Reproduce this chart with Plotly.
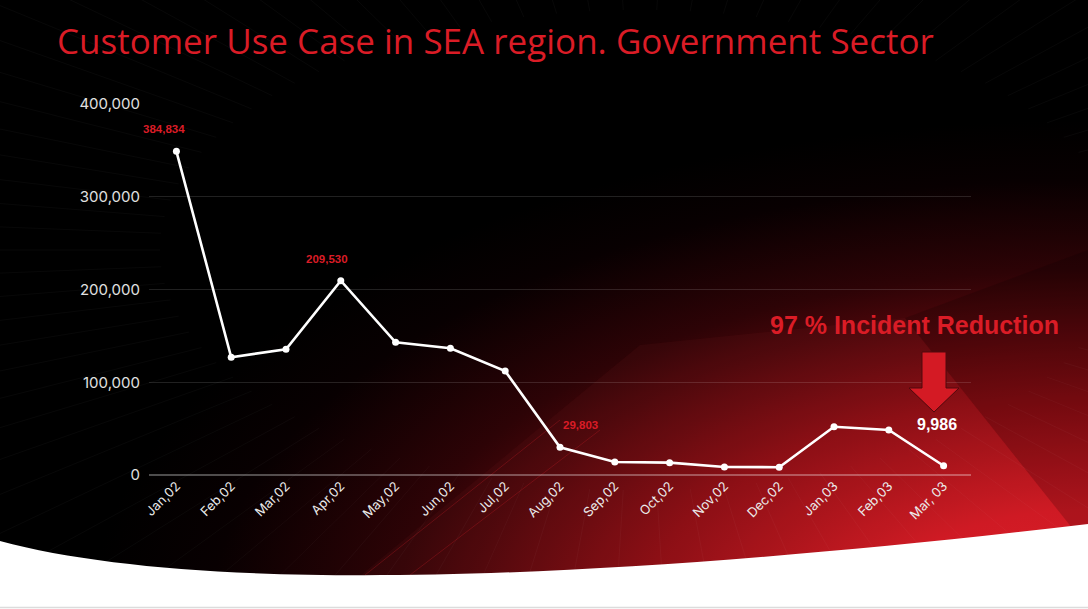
import numpy as np
import plotly.graph_objects as go

# data
months = ["Jan,02", "Feb,02", "Mar,02", "Apr,02", "May,02", "Jun,02", "Jul,02", "Aug,02",
          "Sep,02", "Oct,02", "Nov,02", "Dec,02", "Jan,03", "Feb,03", "Mar, 03"]
incidents = [349000, 127000, 135500, 209530, 143000, 136600, 112000, 29803,
             14000, 13300, 8700, 8400, 52000, 48500, 9986]

label_months = ["Jan,02", "Apr,02", "Aug,02"]
label_values = [384834, 209530, 29803]
label_shift = [-12, -14, 20]

last_value = 9986
yticks = [0, 100000, 200000, 300000, 400000]

W, H = 1088, 609
RED = "rgb(218,28,38)"

fig = go.Figure()

# background glow, drawn on a pixel axis that covers the whole page
t = np.linspace(0, 2 * np.pi, 121)
fig.add_trace(go.Scatter(
    x=1090 + 1000 * np.cos(t), y=620 + 500 * np.sin(t),
    mode="lines", line_width=0, fill="toself", hoverinfo="skip",
    fillgradient=dict(type="radial", colorscale=[
        [0, "rgb(225,30,40)"], [0.22, "rgb(205,24,34)"], [0.45, "rgb(135,12,18)"],
        [0.7, "rgb(45,3,6)"], [0.88, "rgb(8,0,1)"], [1, "rgb(0,0,0)"]]),
    xaxis="x", yaxis="y", showlegend=False))

# lighter beam and darker right wedge
fig.add_trace(go.Scatter(
    x=[361, 640, 905, 1088, 1088, 361], y=[575, 345, 318, 548, 580, 575],
    mode="lines", line_width=0, fill="toself", fillcolor="rgba(255,90,90,0.045)",
    hoverinfo="skip", xaxis="x", yaxis="y", showlegend=False))
fig.add_trace(go.Scatter(
    x=[905, 1088, 1088, 905], y=[318, 250, 548, 318],
    mode="lines", line_width=0, fill="toself", fillcolor="rgba(0,0,0,0.16)",
    hoverinfo="skip", xaxis="x", yaxis="y", showlegend=False))

# faint rays
cx, cy = 640, 250
ang = np.linspace(0, 2 * np.pi, 90, endpoint=False)
rx, ry = [], []
for a in ang:
    rx += [cx + 480 * np.cos(a), cx + 1400 * np.cos(a), None]
    ry += [cy + 240 * np.sin(a), cy + 760 * np.sin(a), None]
fig.add_trace(go.Scatter(x=rx, y=ry, mode="lines", line=dict(color="rgba(255,255,255,0.03)", width=1),
                         hoverinfo="skip", xaxis="x", yaxis="y", showlegend=False))

# thin red streaks
fig.add_trace(go.Scatter(
    x=[365, 560, None, 410, 600], y=[575, 420, None, 575, 430],
    mode="lines", line=dict(color="rgba(200,30,40,0.3)", width=1),
    hoverinfo="skip", xaxis="x", yaxis="y", showlegend=False))

# main line
fig.add_trace(go.Scatter(
    x=months, y=incidents, mode="lines+markers",
    line=dict(color="white", width=2.6), marker=dict(color="white", size=7),
    xaxis="x2", yaxis="y2", showlegend=False, hoverinfo="x+y"))

annotations = []
for m, v, s in zip(label_months, label_values, label_shift):
    annotations.append(dict(
        x=m, y=incidents[months.index(m)], xref="x2", yref="y2", text=f"{v:,}",
        showarrow=False, yshift=22, xshift=s,
        font=dict(family="Liberation Sans, Arial", size=11.5, color=RED, weight="bold")))
annotations.append(dict(
    x=months[-1], y=last_value, xref="x2", yref="y2", text=f"{last_value:,}",
    showarrow=False, yshift=41, xshift=-7,
    font=dict(family="Liberation Sans, Arial", size=16, color="white", weight="bold")))
annotations.append(dict(
    x=914, y=325, xref="x", yref="y", text="97 % Incident Reduction", showarrow=False,
    font=dict(family="Liberation Sans, Arial", size=25, color=RED, weight="bold")))
annotations.append(dict(
    x=55, y=40, xref="x", yref="y", xanchor="left", text="Customer Use Case in SEA region. Government Sector",
    showarrow=False,
    font=dict(family="Open Sans", size=35, color=RED)))

shapes = [
    # white swoosh at the bottom
    dict(type="path", xref="x", yref="y", layer="above", line_width=0, fillcolor="white",
         path="M 0,541 C 200,595 600,582 1088,524 L 1088,609 L 0,609 Z"),
    dict(type="line", xref="x", yref="y", layer="above", x0=0, x1=1088, y0=607.5, y1=607.5,
         line=dict(color="rgb(220,220,220)", width=1.5)),
    # arrow
    dict(type="path", xref="x", yref="y", layer="above", fillcolor="rgb(212,26,36)",
         line=dict(color="rgb(80,8,12)", width=1),
         path="M 922,352 L 946,352 L 946,388 L 959,388 L 934,412 L 909,388 L 922,388 Z"),
]

fig.update_layout(
    width=W, height=H, autosize=False,
    margin=dict(l=0, r=0, t=0, b=0, pad=0),
    paper_bgcolor="black", plot_bgcolor="rgba(0,0,0,0)",
    xaxis=dict(domain=[0, 1], range=[0, W], visible=False, fixedrange=True, automargin=False),
    yaxis=dict(domain=[0, 1], range=[H, 0], visible=False, fixedrange=True, automargin=False),
    xaxis2=dict(domain=[149 / W, 971 / W], anchor="y2", range=[-0.5, 14.5], automargin=False,
                tickangle=-45, showgrid=False, zeroline=False, showline=False,
                tickfont=dict(family="Inter, Lato", size=13, color="rgb(235,235,235)")),
    yaxis2=dict(domain=[(H - 475) / H, (H - 104) / H], anchor="x2", range=[0, 400000],
                automargin=False, tickvals=yticks, tickformat=",", ticklabelstandoff=8,
                gridcolor="rgba(255,255,255,0.13)", gridwidth=1,
                zeroline=True, zerolinecolor="rgba(255,255,255,0.3)", zerolinewidth=1.5,
                showline=False,
                tickfont=dict(family="Inter, Lato", size=15, color="rgb(225,225,225)")),
    annotations=annotations, shapes=shapes,
)

fig.write_html("out.html", config={"displayModeBar": False, "responsive": False},
               post_script="document.body.style.margin='0';document.body.style.overflow='hidden';")
